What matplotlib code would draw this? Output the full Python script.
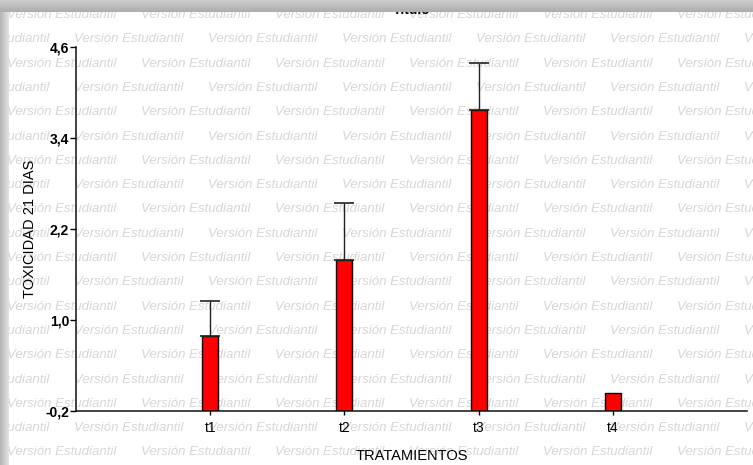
import numpy as np
import matplotlib
matplotlib.use('Agg')
import matplotlib.pyplot as plt

plt.rcParams['font.family'] = ['Liberation Sans', 'DejaVu Sans']

# toxicity at 21 days per treatment (mean and upper error)
tratamientos = ['t1', 't2', 't3', 't4']
toxicidad = [0.79, 1.79, 3.77, 0.04]
error_sup = [0.46, 0.75, 0.62, 0.0]
yticks = [-0.2, 1.0, 2.2, 3.4, 4.6]
ytick_labels = ['-0,2', '1,0', '2,2', '3,4', '4,6']

W, H = 753, 465
fig = plt.figure(figsize=(W / 100, H / 100), dpi=100)
fig.patch.set_facecolor('white')

# watermark rows behind the plot
row_h = 24.3
y0 = 15
for r in range(20):
    yp = y0 + r * row_h
    if yp > H + 10:
        break
    off = 7 if r % 2 == 0 else 7 - 67
    for c in range(-1, 7):
        xp = off + c * 134
        fig.text(xp / W, 1 - yp / H, 'Versión Estudiantil', fontsize=9.5,
                 style='italic', color='#d6d6d6', va='center', ha='left',
                 zorder=-1)

ax = fig.add_axes([76 / W, 1 - 411 / H, (747 - 76) / W, (411 - 47) / H])
ax.patch.set_visible(False)

x = np.arange(1, len(tratamientos) + 1)
base = yticks[0]
heights = [v - base for v in toxicidad]
ax.bar(x, heights, bottom=base, width=0.12, color='#ff0000',
       edgecolor='black', linewidth=1.0, zorder=2)
yerr = np.array([np.zeros(len(error_sup)), error_sup])
mask = np.array(error_sup) > 0
ax.errorbar(x[mask], np.array(toxicidad)[mask], yerr=yerr[:, mask], fmt='none',
            ecolor='#222222', elinewidth=1.0, capsize=7, capthick=1.2, zorder=3)

ax.set_xlim(0, 5)
ax.set_ylim(-0.2, 4.6)
ax.set_yticks(yticks)
ax.set_yticklabels(ytick_labels, fontsize=10, fontweight='bold')
ax.set_xticks(x)
ax.set_xticklabels(tratamientos, fontsize=10)
ax.tick_params(axis='y', direction='out', length=4, width=1, pad=1)
ax.tick_params(axis='x', direction='inout', length=6, width=1, pad=4)
for s in ['top', 'right']:
    ax.spines[s].set_visible(False)
for s in ['left', 'bottom']:
    ax.spines[s].set_linewidth(1.1)
    ax.spines[s].set_color('#111111')

ax.set_xlabel('TRATAMIENTOS', fontsize=10.5, labelpad=10)
ax.set_ylabel('TOXICIDAD 21 DIAS', fontsize=10.5, labelpad=6)

fig.text(412 / W, 1 - 14 / H, 'Título', fontsize=10, fontweight='bold',
         ha='center', va='baseline', zorder=4)

# frame shadow along the top and left edges
top = fig.add_axes([0, 1 - 12 / H, 1, 12 / H], zorder=10)
g = np.linspace(0.80, 0.68, 12)[:, None] * np.ones((12, W))
top.imshow(np.dstack([g, g, g]), aspect='auto', extent=[0, 1, 0, 1])
top.axis('off')
left = fig.add_axes([0, 0, 9 / W, 1 - 12 / H], zorder=9)
gl = np.linspace(0.72, 0.88, 9)[None, :] * np.ones((H, 9))
left.imshow(np.dstack([gl, gl, gl]), aspect='auto', extent=[0, 1, 0, 1])
left.axis('off')

fig.savefig('out.png', dpi=100)
